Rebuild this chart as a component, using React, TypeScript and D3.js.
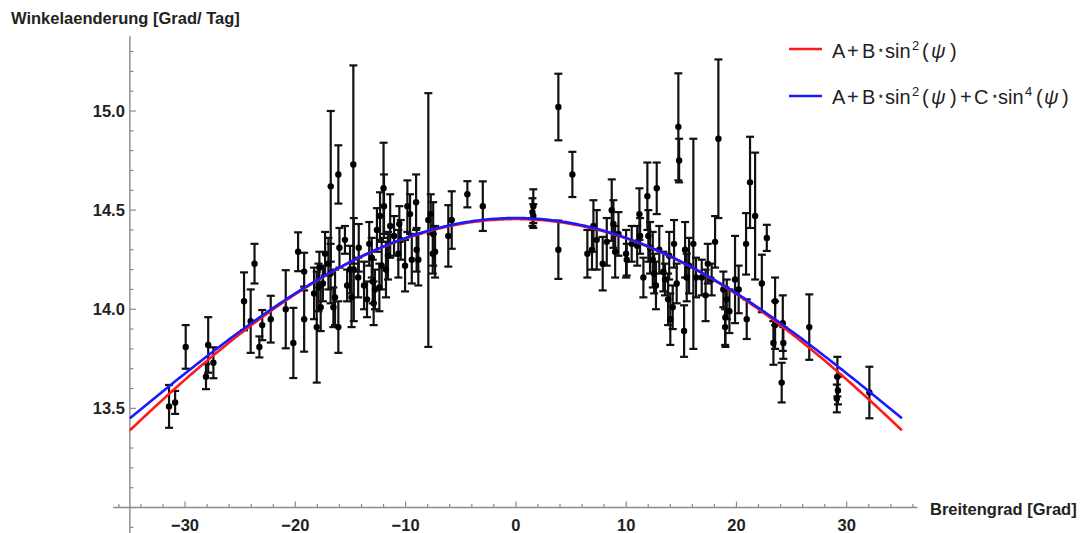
import React from "react";
import * as d3 from "d3";

// ---- data ----
const latitude: number[] = [
  -31.45, -30.9, -29.94, -28.1, -27.9, -27.43, -24.65, -24.05, -23.7, -23.26,
  -23.0, -22.23, -20.87, -20.18, -19.75, -19.2, -19.2, -18.06, -17.82, -17.7,
  -17.3, -17.0, -16.79, -16.1, -16.55, -16.1, -16.0, -16.4, -17.5, -16.8,
  -15.5, -15.04, -14.9, -14.74, -14.7, -14.25, -14.3, -13.77, -13.07, -12.98,
  -12.78, -12.6, -12.38, -12.32, -12.0, -11.96, -12.17, -11.78, -11.4, -11.05,
  -10.66, -10.57, -10.44, -10.05, -9.84, -9.6, -9.44, -9.05, -9.0, -8.85,
  -7.94, -7.72, -7.54, -7.33, -7.5, -6.13, -5.82, -4.4, -3.0, -13.5,
  -12.9, -13.3, -11.6, -15.3, -18.3, -17.9,
  1.58, 1.58, 1.5, 3.85, 3.85, 5.12, 6.48, 6.9, 7.03, 7.33,
  7.87, 8.24, 8.69, 8.84, 9.0, 9.3, 9.99, 10.05, 11.2, 11.26,
  11.56, 11.92, 12.01, 12.16, 12.41, 12.53, 12.77, 12.7, 13.37, 13.52,
  14.22, 14.34, 14.58, 14.73, 14.8, 15.25, 15.34, 15.49, 15.7, 16.09,
  16.33, 16.85, 17.75, 18.06, 18.36, 18.81, 18.97, 19.12, 19.36, 19.87,
  20.93, 20.87, 21.23, 21.69, 22.3, 22.75, 23.35, 23.5, 23.5, 24.2,
  24.25, 24.1, 26.6, 29.15, 29.2, 29.1, 32.05, 10.5, 13.0, 13.8,
  14.0, 17.2, 19.0, 20.2, 17.4, 13.9, 11.0,
];
const rate: number[] = [
  13.51, 13.53, 13.81, 13.66, 13.82, 13.73, 14.04, 13.94, 14.23, 13.81,
  13.92, 13.95, 14.0, 13.83, 14.29, 14.19, 13.95, 13.91, 14.21, 14.01,
  14.28, 14.23, 14.62, 14.68, 14.01, 13.91, 14.31, 14.06, 14.13, 14.18,
  14.35, 14.2, 14.06, 14.73, 14.2, 14.31, 14.16, 14.12, 14.26, 14.14,
  14.1, 14.4, 14.11, 14.47, 14.61, 14.52, 14.22, 14.2, 14.42, 14.37,
  14.28, 14.43, 14.35, 14.22, 14.52, 14.48, 14.25, 14.54, 14.3, 14.25,
  14.45, 14.48, 14.28, 14.29, 14.38, 14.37, 14.45, 14.58, 14.52, 14.05,
  14.03, 14.33, 14.27, 14.12, 14.08, 14.11,
  14.52, 14.47, 14.49, 15.02, 14.3, 14.68, 14.28, 14.3, 14.42, 14.35,
  14.23, 14.34, 14.5, 14.43, 14.29, 14.38, 14.28, 14.25, 14.48, 14.37,
  14.16, 14.57, 14.37, 14.31, 14.25, 14.18, 14.61, 14.12, 14.19, 14.15,
  14.01, 14.33, 14.13, 14.92, 14.75, 13.89, 14.3, 14.16, 14.22, 14.33,
  14.16, 14.16, 14.15, 14.34, 14.86, 14.1, 13.91, 14.05, 13.99, 14.15,
  13.95, 14.33, 14.64, 14.47, 14.13, 14.36, 13.83, 14.04, 13.92, 13.93,
  13.83, 13.63, 13.91, 13.66, 13.59, 13.55, 13.58, 14.33, 14.3, 14.05,
  13.95, 14.07, 13.96, 14.1, 14.23, 14.27, 14.32,
];
const rateError: number[] = [
  0.108, 0.058, 0.11, 0.063, 0.14, 0.078, 0.146, 0.16, 0.1, 0.053,
  0.076, 0.118, 0.197, 0.177, 0.098, 0.095, 0.164, 0.28, 0.08, 0.12,
  0.11, 0.13, 0.38, 0.147, 0.1, 0.13, 0.1, 0.14, 0.09, 0.15,
  0.07, 0.12, 0.15, 0.5, 0.26, 0.12, 0.1, 0.12, 0.1, 0.11,
  0.1, 0.11, 0.12, 0.12, 0.23, 0.16, 0.12, 0.14, 0.16, 0.1,
  0.12, 0.09, 0.1, 0.13, 0.13, 0.1, 0.12, 0.14, 0.11, 0.13,
  0.64, 0.1, 0.1, 0.13, 0.16, 0.155, 0.145, 0.066, 0.125, 0.09,
  0.11, 0.11, 0.12, 0.08, 0.13, 0.12,
  0.085, 0.06, 0.07, 0.168, 0.147, 0.114, 0.12, 0.1, 0.13, 0.15,
  0.135, 0.12, 0.155, 0.12, 0.13, 0.11, 0.12, 0.08, 0.13, 0.09,
  0.1, 0.17, 0.13, 0.13, 0.14, 0.1, 0.13, 0.12, 0.1, 0.08,
  0.11, 0.12, 0.1, 0.27, 0.11, 0.13, 0.14, 0.12, 0.14, 0.53,
  0.1, 0.09, 0.08, 0.13, 0.4, 0.09, 0.09, 0.1, 0.11, 0.22,
  0.1, 0.155, 0.23, 0.32, 0.145, 0.066, 0.11, 0.12, 0.12, 0.14,
  0.08, 0.1, 0.165, 0.1, 0.07, 0.07, 0.13, 0.09, 0.12, 0.13,
  0.13, 0.13, 0.15, 0.12, 0.1, 0.12, 0.1,
];

// fit parameters of the two model curves
const FIT1 = { A: 14.455, B: -3.24 };
const FIT2 = { A: 14.46, B: -3.346, C: 0.84 };

const xMajorTicks = [-30, -20, -10, 0, 10, 20, 30];
const yMajorTicks = [13.5, 14.0, 14.5, 15.0];

// legend glyph runs: [text, offset, kind]
type Run = [string, number, string];
const legend1: Run[] = [
  ["A", 0, "n"], ["+", 15, "n"], ["B", 30, "n"], ["\u22C6", 45, "s"], ["sin", 53, "n"],
  ["2", 80, "u"], ["(", 90, "n"], ["\u03C8", 99, "i"], [")", 118, "n"],
];
const legend2: Run[] = [
  ...legend1,
  ["+", 128, "n"], ["C", 142, "n"], ["\u22C6", 159, "s"], ["sin", 166, "n"],
  ["4", 193, "u"], ["(", 204, "n"], ["\u03C8", 212, "i"], [")", 230, "n"],
];

const W = 1084;
const H = 533;
const FONT = "'Liberation Sans', Arial, Helvetica, sans-serif";

function LegendText({ runs, x0, y0 }: { runs: Run[]; x0: number; y0: number }) {
  return (
    <g fill="#222">
      {runs.map(([t, dx, k], i) => (
        <text
          key={i}
          x={x0 + dx}
          y={k === "u" ? y0 - 8 : k === "s" ? y0 - 4 : y0}
          fontSize={k === "u" ? 13 : k === "s" ? 12 : 20}
          fontStyle={k === "i" ? "italic" : "normal"}
          fontFamily={k === "s" ? "'DejaVu Sans', sans-serif" : FONT}
        >
          {t}
        </text>
      ))}
    </g>
  );
}

export default function App() {
  const x = d3.scaleLinear().domain([-35, 35]).range([129.9, 901.9]);
  const y = d3.scaleLinear().domain([13, 15]).range([507.5, 111]);

  const s2 = (p: number) => Math.pow(Math.sin((p * Math.PI) / 180), 2);
  const psiGrid = d3.range(-35, 35.001, 0.25);
  const redPath = d3
    .line<number>()
    .x((p) => x(p))
    .y((p) => y(FIT1.A + FIT1.B * s2(p)))(psiGrid);
  const bluePath = d3
    .line<number>()
    .x((p) => x(p))
    .y((p) => y(FIT2.A + FIT2.B * s2(p) + FIT2.C * s2(p) * s2(p)))(psiGrid);

  const axisColor = "#8a8a8a";
  const x0 = x(-35);
  const yAxisPos = y(13);
  const xMinor = d3.range(-36, 36.01, 2);
  const yMinor = d3.range(12.9, 15.31, 0.1).map((v) => Math.round(v * 10) / 10);

  return (
    <svg
      width={W}
      height={H}
      style={{ position: "absolute", left: 0, top: 0, background: "#fff" }}
      fontFamily={FONT}
    >
      {/* axes */}
      <line x1={x(-36.5)} x2={x(36.4)} y1={yAxisPos} y2={yAxisPos} stroke={axisColor} strokeWidth={1.4} />
      <line x1={x0} x2={x0} y1={y(15.38)} y2={H} stroke={axisColor} strokeWidth={1.4} />
      {xMinor.map((t) => {
        const major = t % 10 === 0;
        return (
          <line
            key={"xt" + t}
            x1={x(t)}
            x2={x(t)}
            y1={yAxisPos}
            y2={yAxisPos - (major ? 6 : 3.5)}
            stroke={axisColor}
            strokeWidth={1.2}
          />
        );
      })}
      {yMinor.map((t) => {
        const major = Math.abs(t * 2 - Math.round(t * 2)) < 1e-6;
        return (
          <line
            key={"yt" + t}
            x1={x0}
            x2={x0 + (major ? 6 : 3.5)}
            y1={y(t)}
            y2={y(t)}
            stroke={axisColor}
            strokeWidth={1.2}
          />
        );
      })}
      {xMajorTicks.map((t) => (
        <text
          key={"xl" + t}
          x={x(t)}
          y={531}
          textAnchor="middle"
          fontSize={16.5}
          fontWeight="bold"
          fill="#222"
        >
          {t < 0 ? "\u2212" + Math.abs(t) : String(t)}
        </text>
      ))}
      {yMajorTicks.map((t) => (
        <text
          key={"yl" + t}
          x={x0 - 5}
          y={y(t) + 6}
          textAnchor="end"
          fontSize={16.5}
          fontWeight="bold"
          fill="#222"
        >
          {t.toFixed(1)}
        </text>
      ))}
      <text x={11} y={24} fontSize={16.5} fontWeight="bold" fill="#222">
        Winkelaenderung [Grad/ Tag]
      </text>
      <text x={930} y={515} fontSize={16.5} fontWeight="bold" fill="#222">
        Breitengrad [Grad]
      </text>

      {/* error bars */}
      <g stroke="#111" strokeWidth={2.2}>
        {latitude.map((p, i) => {
          const cx = x(p);
          const top = y(rate[i] + rateError[i]);
          const bot = y(rate[i] - rateError[i]);
          return (
            <g key={"e" + i}>
              <line x1={cx} x2={cx} y1={top} y2={bot} />
              <line x1={cx - 4} x2={cx + 4} y1={top} y2={top} />
              <line x1={cx - 4} x2={cx + 4} y1={bot} y2={bot} />
            </g>
          );
        })}
      </g>
      <g fill="#000">
        {latitude.map((p, i) => (
          <circle key={"p" + i} cx={x(p)} cy={y(rate[i])} r={3.2} />
        ))}
      </g>

      {/* curves (on top of the data) */}
      <path d={redPath || ""} fill="none" stroke="#ff1a1a" strokeWidth={2.6} />
      <path d={bluePath || ""} fill="none" stroke="#1a1aff" strokeWidth={2.6} />

      {/* legend */}
      <line x1={789} x2={822} y1={49} y2={49} stroke="#ff1a1a" strokeWidth={2.6} />
      <line x1={789} x2={822} y1={96} y2={96} stroke="#1a1aff" strokeWidth={2.6} />
      <LegendText runs={legend1} x0={832} y0={57.5} />
      <LegendText runs={legend2} x0={832} y0={103.5} />
    </svg>
  );
}
